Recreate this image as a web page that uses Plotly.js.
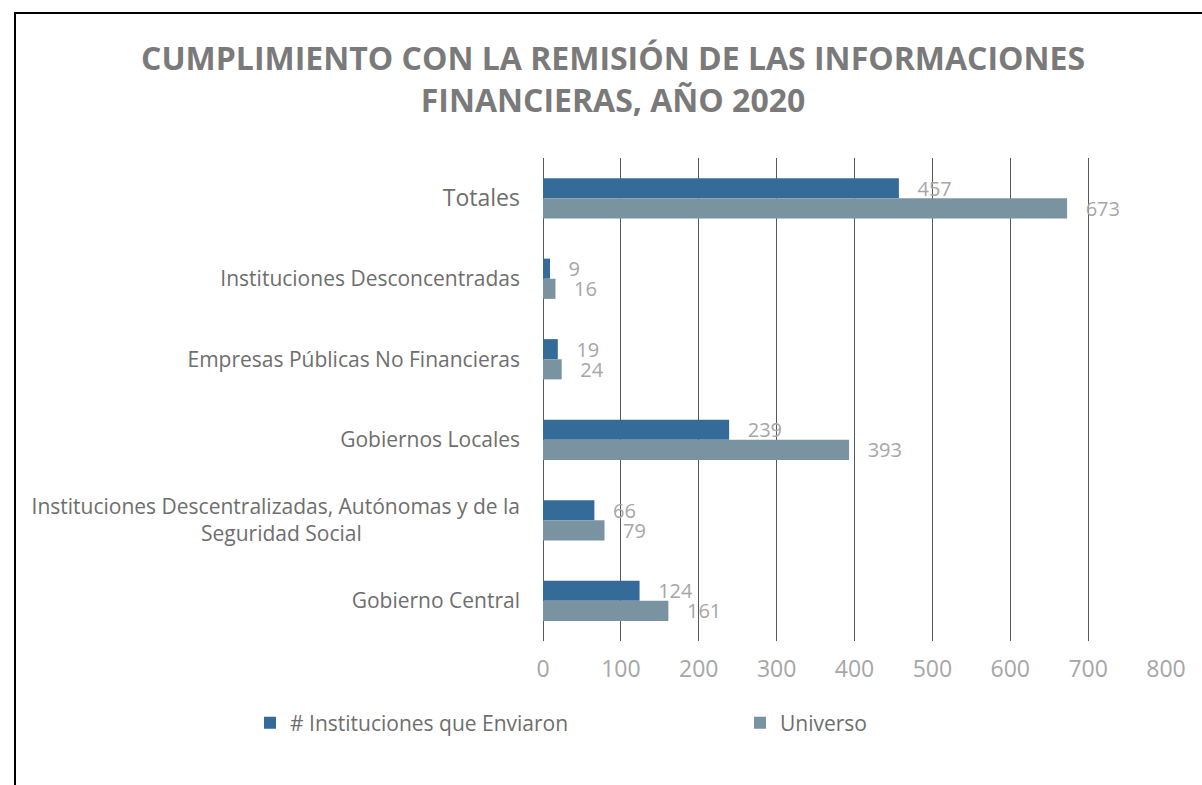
<!DOCTYPE html>
<html>
<head>
<meta charset="utf-8">
<script src="https://cdn.plot.ly/plotly-3.0.1.min.js"></script>
<style>
  html, body { margin: 0; padding: 0; background: #ffffff; }
  #chart { position: absolute; left: 0; top: 0; width: 1202px; height: 785px; }
  #frame { position: absolute; left: 14px; top: 12px; width: 1200px; height: 800px;
           border-left: 2px solid #000; border-top: 2px solid #000; pointer-events: none; }
</style>
</head>
<body>
<div id="chart"></div>
<div id="frame"></div>
<script>
// Categories listed top to bottom as drawn
const categories = [
  "Totales",
  "Instituciones Desconcentradas",
  "Empresas Públicas No Financieras",
  "Gobiernos Locales",
  "Instituciones Descentralizadas, Autónomas y de la Seguridad Social",
  "Gobierno Central"
];
const categoryLabels = [
  "<span style='font-size:23px'>Totales</span>",
  "Instituciones Desconcentradas",
  "Empresas Públicas No Financieras",
  "Gobiernos Locales",
  "Instituciones Descentralizadas, Autónomas y de la<br>Seguridad Social                             ",
  "Gobierno Central"
];
const enviaron = [457, 9, 19, 239, 66, 124];
const universo = [673, 16, 24, 393, 79, 161];
const seriesNames = ["# Instituciones que Enviaron", "Universo"];
const xTicks = [0, 100, 200, 300, 400, 500, 600, 700, 800];

const labelFont = { family: "Open Sans, sans-serif", size: 20, color: "#A6A6A6" };

const traces = [
  {
    type: "bar", orientation: "h", name: seriesNames[0],
    y: categories, x: enviaron,
    marker: { color: "#356B98" },
    text: enviaron, texttemplate: "\u00a0\u00a0\u00a0%{x}", textposition: "outside",
    constraintext: "none",
    textfont: labelFont, cliponaxis: false, hoverinfo: "x+y",
    legend: "legend"
  },
  {
    type: "bar", orientation: "h", name: seriesNames[1],
    y: categories, x: universo,
    marker: { color: "#7994A0" },
    text: universo, texttemplate: "\u00a0\u00a0\u00a0%{x}", textposition: "outside",
    constraintext: "none",
    textfont: labelFont, cliponaxis: false, hoverinfo: "x+y",
    legend: "legend2"
  }
];

const legendFont = { family: "Open Sans, sans-serif", size: 21, color: "#6E6E6E" };

const layout = {
  width: 1202, height: 785,
  paper_bgcolor: "#ffffff", plot_bgcolor: "#ffffff",
  font: { family: "Open Sans, sans-serif", color: "#6E6E6E" },
  margin: { l: 543, r: 36, t: 158, b: 144 },
  title: {
    text: "CUMPLIMIENTO CON LA REMISIÓN DE LAS INFORMACIONES<br>FINANCIERAS, AÑO 2020",
    font: { family: "Open Sans, sans-serif", size: 32, color: "#7A7A7A", weight: "bold" },
    xref: "container", x: 0.51, yref: "container", y: 1 - 70 / 785, yanchor: "top"
  },
  barmode: "group",
  bargap: 0.5,
  bargroupgap: 0,
  xaxis: {
    range: [0, 800],
    tickvals: xTicks,
    ticktext: xTicks.map(String),
    showgrid: true, gridcolor: "#595959", gridwidth: 1,
    zeroline: true, zerolinecolor: "#595959", zerolinewidth: 1,
    showline: false, ticks: "",
    tickfont: { family: "Open Sans, sans-serif", size: 23, color: "#A6A6A6" },
    ticklabelstandoff: 12,
    fixedrange: true
  },
  yaxis: {
    type: "category",
    categoryorder: "array", categoryarray: categories,
    tickvals: categories, ticktext: categoryLabels,
    autorange: "reversed",
    showgrid: false, zeroline: false, showline: false, ticks: "",
    tickfont: { family: "Open Sans, sans-serif", size: 21, color: "#6E6E6E" },
    ticklabelstandoff: 22,
    fixedrange: true
  },
  showlegend: true,
  legend: {
    orientation: "h",
    xref: "container", x: 250 / 1202, xanchor: "left",
    yref: "container", y: 1 - 723 / 785, yanchor: "middle",
    font: legendFont
  },
  legend2: {
    orientation: "h",
    xref: "container", x: 740 / 1202, xanchor: "left",
    yref: "container", y: 1 - 723 / 785, yanchor: "middle",
    font: legendFont
  }
};

Plotly.newPlot("chart", traces, layout, { displayModeBar: false, staticPlot: true });
</script>
</body>
</html>
